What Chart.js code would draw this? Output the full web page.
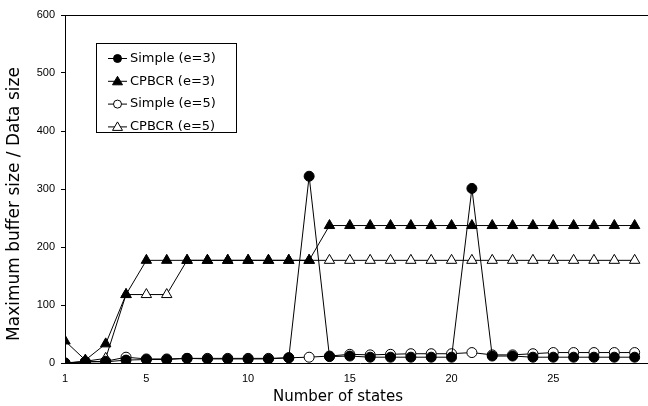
<!DOCTYPE html>
<html>
<head>
<meta charset="utf-8">
<script src="https://cdn.jsdelivr.net/npm/chart.js@4.4.9/dist/chart.umd.min.js"></script>
<style>
  html, body { margin: 0; padding: 0; background: #fff; overflow: hidden; }
  #wrap { width: 662px; height: 406px; }
</style>
</head>
<body>
<div id="wrap"><canvas id="c"></canvas></div>
<script>
// states on the x axis
const states = [1,2,3,4,5,6,7,8,9,10,11,12,13,14,15,16,17,18,19,20,21,22,23,24,25,26,27,28,29];
const xTicks = [1, 5, 10, 15, 20, 25];
const yTicks = [0, 100, 200, 300, 400, 500, 600];

const simpleE3 = [0,2,2,5,6,6,8,7,7,7,7,9,322,11,12,10,10,10,10,10,301,12,12,10,10,10,10,10,10];
const cpbcrE3  = [38,5,33,118,177,177,177,177,177,177,177,177,177,237,237,237,237,237,237,237,237,237,237,237,237,237,237,237,237];
const simpleE5 = [0,2,3,10,7,7,8,8,8,8,8,9,10,12,15,14,15,16,16,16,18,14,14,16,18,18,18,18,18];
const cpbcrE5  = [0,3,8,118,118,118,177,177,177,177,177,177,177,177,177,177,177,177,177,177,177,177,177,177,177,177,177,177,177];

const labels = ['Simple (e=3)', 'CPBCR (e=3)', 'Simple (e=5)', 'CPBCR (e=5)'];
const xTitle = 'Number of states';
const yTitle = 'Maximum buffer size / Data size';

const pts = arr => arr.map((v, i) => ({ x: states[i], y: v }));

function series(label, arr, style, filled, radius, order) {
  return {
    label, data: pts(arr),
    borderColor: '#000', borderWidth: 1,
    pointStyle: style, pointRadius: radius, pointHoverRadius: radius,
    pointBackgroundColor: filled ? '#000' : '#fff',
    pointBorderColor: '#000', pointBorderWidth: 1,
    tension: 0, fill: false, order
  };
}

/* legend box drawn inside the plot, like the original */
const boxLegend = {
  id: 'boxLegend',
  afterDraw(chart) {
    const ctx = chart.ctx;
    const bx = 96, by = 43, bw = 140, bh = 89;
    ctx.save();
    ctx.fillStyle = '#fff';
    ctx.fillRect(bx, by, bw, bh);
    ctx.strokeStyle = '#000';
    ctx.lineWidth = 1;
    ctx.strokeRect(bx + 0.5, by + 0.5, bw, bh);
    chart.data.datasets.forEach((ds, i) => {
      const y = 58.5 + i * 22.8;
      ctx.beginPath();
      ctx.moveTo(108, y); ctx.lineTo(127, y);
      ctx.strokeStyle = '#000';
      ctx.stroke();
      ctx.fillStyle = ds.pointBackgroundColor;
      ctx.beginPath();
      if (ds.pointStyle === 'circle') {
        ctx.arc(117.5, y, 4, 0, Math.PI * 2);
      } else {
        ctx.moveTo(117.5, y - 5); ctx.lineTo(122.5, y + 3.5); ctx.lineTo(112.5, y + 3.5); ctx.closePath();
      }
      ctx.fill(); ctx.stroke();
      ctx.fillStyle = '#000';
      ctx.font = '13px "DejaVu Sans", sans-serif';
      ctx.textBaseline = 'middle';
      ctx.fillText(ds.label, 130, y);
    });
    ctx.restore();
  }
};

/* axis titles: centred on the whole picture, as the spreadsheet did */
const axisTitles = {
  id: 'axisTitles',
  afterDraw(chart) {
    const ctx = chart.ctx;
    ctx.save();
    ctx.fillStyle = '#000';
    ctx.textAlign = 'center';
    ctx.textBaseline = 'middle';
    ctx.font = '15px "DejaVu Sans", sans-serif';
    ctx.fillText(xTitle, 338, 397);
    ctx.translate(15, 204);
    ctx.rotate(-Math.PI / 2);
    ctx.font = '17px "DejaVu Sans", sans-serif';
    ctx.fillText(yTitle, 0, 0);
    ctx.restore();
  }
};

/* top border of the plot area */
const frame = {
  id: 'frame',
  beforeDatasetsDraw(chart) {
    const { ctx, chartArea: a } = chart;
    ctx.save();
    ctx.strokeStyle = '#000';
    ctx.lineWidth = 1;
    ctx.beginPath();
    ctx.moveTo(a.left, a.top + 0.5);
    ctx.lineTo(a.right, a.top + 0.5);
    ctx.lineTo(a.right, a.bottom);
    ctx.stroke();
    ctx.restore();
  }
};

new Chart(document.getElementById('c'), {
  type: 'line',
  data: {
    datasets: [
      series(labels[0], simpleE3, 'circle', true, 5, 1),
      series(labels[1], cpbcrE3, 'triangle', true, 6, 2),
      series(labels[2], simpleE5, 'circle', false, 5, 3),
      series(labels[3], cpbcrE5, 'triangle', false, 6, 4)
    ]
  },
  options: {
    responsive: true,
    maintainAspectRatio: false,
    animation: false,
    events: [],
    layout: { padding: { top: 15, right: 5, left: 0, bottom: 0 } },
    plugins: { legend: { display: false }, tooltip: { enabled: false } },
    scales: {
      x: {
        type: 'linear', min: 1, max: 30,
        afterBuildTicks: s => { s.ticks = xTicks.map(v => ({ value: v })); },
        afterFit: s => { s.height = 43; },
        grid: { drawOnChartArea: false, drawTicks: false },
        border: { color: '#000', width: 1 },
        ticks: { color: '#000', padding: 9, maxRotation: 0, font: { size: 11, family: '"Liberation Sans", Arial, sans-serif' } }
      },
      y: {
        min: 0, max: 600,
        afterBuildTicks: s => { s.ticks = yTicks.map(v => ({ value: v })); },
        afterFit: s => { s.width = 65; },
        grid: { drawOnChartArea: false, drawTicks: true, tickLength: 4, color: '#000' },
        border: { color: '#000', width: 1 },
        ticks: { color: '#000', padding: 6, font: { size: 11, family: '"Liberation Sans", Arial, sans-serif' } }
      }
    }
  },
  plugins: [frame, boxLegend, axisTitles]
});
</script>
</body>
</html>
